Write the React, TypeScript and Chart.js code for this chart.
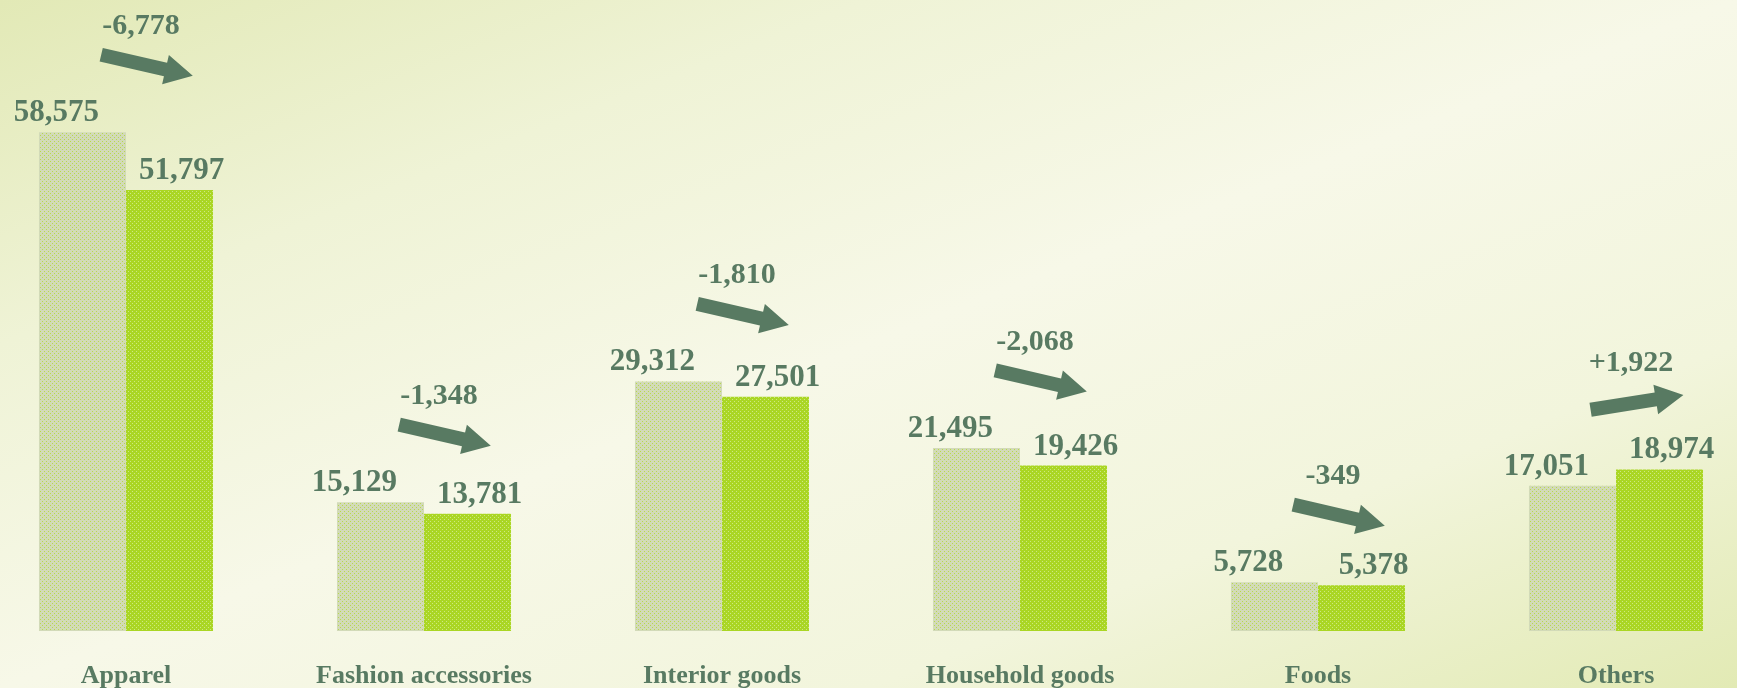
import React, { useEffect, useRef } from 'react';
import { Chart, registerables } from 'chart.js';

Chart.register(...registerables);

const categories = ['Apparel', 'Fashion accessories', 'Interior goods', 'Household goods', 'Foods', 'Others'];
const previousValues = [58575, 15129, 29312, 21495, 5728, 17051];
const currentValues = [51797, 13781, 27501, 19426, 5378, 18974];
const changeValues = [-6778, -1348, -1810, -2068, -349, 1922];
const yMax = 70000;

const TEXT = '#587a62';
const FONT = "'Liberation Serif', 'Times New Roman', serif";

function makePattern(ctx: CanvasRenderingContext2D, base: string, dot: string) {
  const c = document.createElement('canvas');
  c.width = 4;
  c.height = 4;
  const g = c.getContext('2d')!;
  g.fillStyle = base;
  g.fillRect(0, 0, 4, 4);
  g.fillStyle = dot;
  g.fillRect(1, 1, 1, 1);
  g.fillRect(3, 3, 1, 1);
  return ctx.createPattern(c, 'repeat');
}

function drawArrow(ctx: CanvasRenderingContext2D, cx: number, cy: number, angleDeg: number) {
  const L = 94, shaft = 7, head = 15, headLen = 28;
  ctx.save();
  ctx.translate(cx, cy);
  ctx.rotate((angleDeg * Math.PI) / 180);
  ctx.beginPath();
  ctx.moveTo(-L / 2, -shaft);
  ctx.lineTo(L / 2 - headLen, -shaft);
  ctx.lineTo(L / 2 - headLen, -head);
  ctx.lineTo(L / 2, 0);
  ctx.lineTo(L / 2 - headLen, head);
  ctx.lineTo(L / 2 - headLen, shaft);
  ctx.lineTo(-L / 2, shaft);
  ctx.closePath();
  ctx.fillStyle = TEXT;
  ctx.fill();
  ctx.restore();
}

const annotate = {
  id: 'annotate',
  afterDatasetsDraw(chart: any) {
    const ctx: CanvasRenderingContext2D = chart.ctx;
    const m0 = chart.getDatasetMeta(0);
    const m1 = chart.getDatasetMeta(1);
    ctx.save();
    ctx.fillStyle = TEXT;
    ctx.font = `bold 31px ${FONT}`;
    ctx.textAlign = 'center';
    ctx.textBaseline = 'alphabetic';
    [m0, m1].forEach((m: any, di: number) => {
      const dx = di === 0 ? -26 : 12;
      const vals = di === 0 ? previousValues : currentValues;
      m.data.forEach((bar: any, i: number) => {
        ctx.fillText(vals[i].toLocaleString('en-US'), bar.x + dx, bar.y - 11);
      });
    });
    ctx.font = `bold 30px ${FONT}`;
    categories.forEach((_, i) => {
      const cx = chart.scales.x.getPixelForValue(i);
      const top = Math.min(m0.data[i].y, m1.data[i].y);
      const labelCy = top - 108;
      const ch = changeValues[i];
      const txt = (ch > 0 ? '+' : '') + ch.toLocaleString('en-US');
      ctx.fillStyle = TEXT;
      ctx.fillText(txt, cx + 15, labelCy + 10);
      drawArrow(ctx, cx + 21, labelCy + 41, ch < 0 ? 13 : -9);
    });
    ctx.restore();
  },
};

export default function App() {
  const ref = useRef<HTMLCanvasElement>(null);

  useEffect(() => {
    document.body.style.margin = '0';
    const canvas = ref.current!;
    const ctx = canvas.getContext('2d')!;
    const p1 = makePattern(ctx, '#d2dab8', '#b8da4c');
    const p2 = makePattern(ctx, '#aad624', '#cde884');
    const chart = new Chart(canvas, {
      type: 'bar',
      data: {
        labels: categories,
        datasets: [
          { label: 'Previous', data: previousValues, backgroundColor: p1 as any, borderWidth: 0 },
          { label: 'Current', data: currentValues, backgroundColor: p2 as any, borderWidth: 0 },
        ],
      },
      options: {
        responsive: false,
        animation: false,
        events: [],
        categoryPercentage: 0.584,
        barPercentage: 1,
        layout: { padding: { top: 35, bottom: -34, left: 0, right: 0 } },
        plugins: { legend: { display: false }, tooltip: { enabled: false }, title: { display: false } },
        scales: {
          x: {
            grid: { display: false, drawTicks: false },
            border: { display: false },
            ticks: {
              color: TEXT,
              font: { family: FONT, size: 26, weight: 'bold', lineHeight: 0.04 },
              padding: 45,
              maxRotation: 0,
              autoSkip: false,
            },
          },
          y: { display: false, min: 0, max: yMax },
        },
      } as any,
      plugins: [annotate],
    });
    return () => chart.destroy();
  }, []);

  return (
    <div
      style={{
        position: 'relative',
        width: 1737,
        height: 688,
        overflow: 'hidden',
        background:
          'linear-gradient(to bottom right, #e2e9b6 0%, #eff3d6 25%, #f7f8e8 50%, #f2f5dc 75%, #e2eab4 100%)',
      }}
    >
      <canvas
        ref={ref}
        width={1788}
        height={688}
        style={{ position: 'absolute', left: -23, top: 0, width: 1788, height: 688 }}
      />
    </div>
  );
}
